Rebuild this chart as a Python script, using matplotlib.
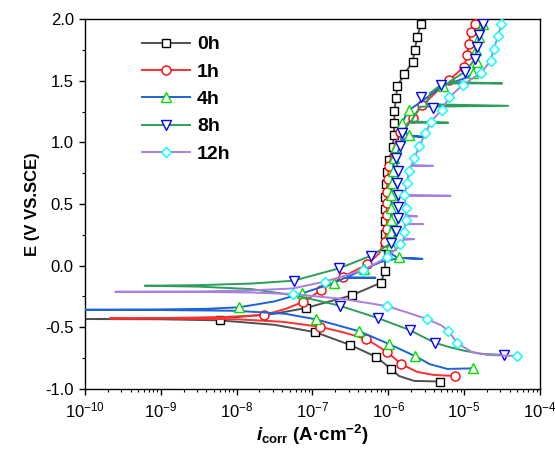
import matplotlib
matplotlib.use('Agg')
import matplotlib.pyplot as plt
import numpy as np
from matplotlib.lines import Line2D
from matplotlib.ticker import LogLocator, MultipleLocator, NullFormatter

plt.rcParams['font.family'] = ['Liberation Sans', 'DejaVu Sans']
plt.rcParams['axes.unicode_minus'] = False
plt.rcParams['mathtext.fontset'] = 'custom'
plt.rcParams['mathtext.rm'] = 'Liberation Sans'
plt.rcParams['mathtext.it'] = 'Liberation Sans:italic'
plt.rcParams['mathtext.bf'] = 'Liberation Sans:bold'
plt.rcParams['mathtext.bfit'] = 'Liberation Sans:italic:bold'

# log10 of current density (A/cm2) and potential (V vs SCE)
h0_logi = [-5.32, -5.66, -5.86, -5.96, -6.16, -6.50, -6.96, -7.5, -8.22, -9.0, -10.0,
           -9.0, -8.0, -7.5, -7.09, -6.48, -6.10, -6.04, -6.05, -6.05, -6.02, -5.94,
           -5.92, -5.92, -5.90, -5.88, -5.79, -5.68, -5.65, -5.62, -5.57, -5.55]
h0_E = [-0.94, -0.935, -0.895, -0.84, -0.74, -0.644, -0.54, -0.48, -0.444, -0.435, -0.433,
        -0.430, -0.418, -0.39, -0.344, -0.24, -0.139, -0.04, 0.16, 0.45, 0.80, 0.96,
        1.157, 1.256, 1.357, 1.457, 1.554, 1.654, 1.754, 1.857, 1.957, 2.0]
h0_mk_logi = [-5.32, -5.96, -6.16, -6.50, -6.96, -8.22, -7.09, -6.48, -6.10, -6.04, -6.05,
              -6.05, -6.05, -6.05, -6.04, -6.03, -6.02, -5.99, -5.94, -5.92, -5.92,
              -5.92, -5.90, -5.88, -5.79, -5.68, -5.65, -5.62, -5.57]
h0_mk_E = [-0.94, -0.84, -0.74, -0.644, -0.54, -0.444, -0.344, -0.24, -0.139, -0.04, 0.161,
           0.256, 0.36, 0.46, 0.56, 0.66, 0.76, 0.86, 0.96, 1.057, 1.157,
           1.256, 1.357, 1.457, 1.554, 1.654, 1.754, 1.857, 1.957]

h1_logi = [-5.12, -5.40, -5.62, -5.83, -6.02, -6.29, -6.60, -6.90, -7.4, -8.0, -9.0, -9.67,
           -9.0, -8.2, -7.64, -7.35, -7.12, -6.89, -6.60, -6.28, -6.12, -6.05, -6.02, -6.02,
           -6.02, -6.02, -6.01, -5.99, -5.95, -5.90, -5.84, -5.68, -5.55, -5.35, -5.20,
           -5.00, -4.96, -4.94, -4.91, -4.86, -4.84]
h1_E = [-0.895, -0.887, -0.862, -0.798, -0.698, -0.595, -0.54, -0.496, -0.455, -0.435, -0.428, -0.428,
        -0.425, -0.418, -0.40, -0.35, -0.293, -0.20, -0.09, 0.01, 0.10, 0.194, 0.30, 0.41,
        0.505, 0.60, 0.70, 0.81, 0.92, 1.0, 1.086, 1.20, 1.30, 1.42, 1.505,
        1.613, 1.71, 1.80, 1.897, 1.965, 2.0]
h1_mk_logi = [-5.12, -5.83, -6.02, -6.29, -6.90, -7.64, -7.12, -6.89, -6.60, -6.28, -6.05,
              -6.02, -6.02, -6.02, -6.02, -6.01, -5.99, -5.84, -5.68, -5.55, -5.20,
              -5.00, -4.96, -4.94, -4.91, -4.86]
h1_mk_E = [-0.895, -0.798, -0.698, -0.595, -0.496, -0.40, -0.293, -0.20, -0.09, 0.01, 0.194,
           0.30, 0.41, 0.505, 0.60, 0.70, 0.81, 1.086, 1.20, 1.30, 1.505,
           1.613, 1.71, 1.80, 1.897, 1.965]

h4_logi = [-4.88, -5.22, -5.45, -5.65, -5.99, -6.38, -6.95, -7.36, -8.02, -9.0, -10.0,
           -9.0, -8.4, -7.97, -7.5, -7.14, -6.71, -6.58, -6.17, -6.55, -6.32, -6.10, -5.85,
           -5.55, -5.88, -5.97, -5.97, -5.96, -5.95, -5.93, -5.90, -5.86, -5.73, -5.55,
           -5.75, -5.82, -5.73, -5.5, -5.28, -4.95, -4.89, -4.83, -4.85, -4.80, -4.75, -4.73]
h4_E = [-0.833, -0.838, -0.80, -0.733, -0.636, -0.533, -0.436, -0.39, -0.366, -0.36, -0.358,
        -0.355, -0.35, -0.338, -0.29, -0.225, -0.139, -0.10, -0.098, -0.095, -0.03, 0.03, 0.062,
        0.055, 0.065, 0.10, 0.30, 0.50, 0.70, 0.85, 0.96, 1.0, 1.05, 1.045,
        1.06, 1.16, 1.26, 1.36, 1.46, 1.53, 1.565, 1.654, 1.75, 1.85, 1.957, 2.0]
h4_mk_logi = [-4.88, -5.65, -5.99, -6.38, -6.95, -7.97, -7.14, -6.71, -6.32, -5.86,
              -5.97, -5.97, -5.97, -5.96, -5.96, -5.95, -5.94, -5.93, -5.90, -5.73,
              -5.82, -5.73, -5.28, -4.89, -4.83, -4.85, -4.80, -4.75]
h4_mk_E = [-0.833, -0.733, -0.636, -0.533, -0.436, -0.338, -0.225, -0.139, -0.03, 0.072,
           0.17, 0.27, 0.37, 0.47, 0.57, 0.67, 0.77, 0.87, 0.964, 1.06,
           1.16, 1.26, 1.46, 1.565, 1.654, 1.75, 1.855, 1.957]

h8_logi = [-4.47, -4.78, -5.0, -5.20, -5.39, -5.72, -6.13, -6.64, -7.2, -7.8, -8.5, -9.21,
           -8.5, -7.8, -7.25, -6.65, -6.23, -5.97, -5.90, -5.87, -5.87, -5.88, -5.87, -5.90,
           -5.85, -5.82, -5.72, -5.21, -5.70, -5.58, -4.42, -5.50, -5.45, -5.31, -5.25,
           -4.50, -5.2, -4.99, -4.86, -4.83, -4.80, -4.75, -4.73]
h8_E = [-0.725, -0.715, -0.69, -0.66, -0.625, -0.522, -0.427, -0.325, -0.245, -0.19, -0.17, -0.163,
        -0.158, -0.145, -0.122, -0.022, 0.08, 0.18, 0.262, 0.38, 0.57, 0.67, 0.77, 0.87,
        0.97, 1.078, 1.16, 1.16, 1.17, 1.29, 1.297, 1.31, 1.40, 1.465, 1.479,
        1.479, 1.49, 1.573, 1.673, 1.775, 1.87, 1.965, 2.0]
h8_mk_logi = [-4.47, -5.39, -5.72, -6.13, -6.64, -7.25, -6.65, -6.23, -5.97, -5.90, -5.87,
              -5.87, -5.87, -5.88, -5.87, -5.90, -5.85, -5.82, -5.41, -5.57, -5.31,
              -4.99, -4.86, -4.83, -4.80, -4.75]
h8_mk_E = [-0.725, -0.625, -0.522, -0.427, -0.325, -0.122, -0.022, 0.08, 0.18, 0.283, 0.384,
           0.478, 0.57, 0.67, 0.77, 0.87, 0.97, 1.078, 1.276, 1.37, 1.465,
           1.573, 1.673, 1.775, 1.87, 1.965]

h12_logi = [-4.30, -4.69, -4.9, -5.09, -5.21, -5.30, -5.49, -5.75, -6.02, -6.6, -7.26, -7.8, -8.5, -9.60,
            -8.5, -7.8, -7.26, -6.84, -6.33, -6.02, -5.84, -5.80, -5.66, -5.80, -5.79, -5.78,
            -5.54, -5.77, -5.77, -5.62, -5.77, -5.78, -5.18, -5.79, -5.75, -5.73, -5.70, -5.41,
            -5.69, -5.66, -5.59, -5.51, -5.44, -5.29, -5.20, -5.02, -4.78, -4.65, -4.61,
            -4.55, -4.51, -4.49]
h12_E = [-0.733, -0.725, -0.70, -0.63, -0.528, -0.485, -0.433, -0.38, -0.328, -0.27, -0.23, -0.218, -0.213, -0.212,
         -0.21, -0.20, -0.185, -0.13, -0.036, 0.067, 0.167, 0.21, 0.215, 0.22, 0.27, 0.337,
         0.337, 0.34, 0.40, 0.40, 0.41, 0.567, 0.567, 0.573, 0.667, 0.77, 0.81, 0.81,
         0.815, 0.87, 0.97, 1.073, 1.167, 1.267, 1.365, 1.465, 1.565, 1.662, 1.762,
         1.865, 1.965, 2.0]
h12_mk_logi = [-4.30, -5.09, -5.21, -5.49, -6.02, -7.26, -6.84, -6.33, -6.02, -5.85, -5.79,
               -5.77, -5.77, -5.79, -5.75, -5.73, -5.66, -5.59, -5.51, -5.44, -5.29,
               -5.20, -5.02, -4.78, -4.65, -4.61, -4.55, -4.51]
h12_mk_E = [-0.733, -0.63, -0.528, -0.433, -0.328, -0.228, -0.13, -0.036, 0.067, 0.175, 0.27,
            0.37, 0.465, 0.573, 0.667, 0.77, 0.87, 0.97, 1.073, 1.167, 1.267,
            1.365, 1.465, 1.565, 1.662, 1.762, 1.865, 1.965]

labels = ['0h', '1h', '4h', '8h', '12h']
line_colors = ['#505050', '#ff3030', '#1c63d8', '#2d9e5a', '#a97fe0']
marker_colors = ['#000000', '#ff0000', '#00e000', '#0000ff', '#00ffff']
markers = ['s', 'o', '^', 'v', 'D']
marker_sizes = [5.5, 6.5, 6.5, 6.5, 5.5]

series = [
    (h0_logi, h0_E, h0_mk_logi, h0_mk_E),
    (h1_logi, h1_E, h1_mk_logi, h1_mk_E),
    (h4_logi, h4_E, h4_mk_logi, h4_mk_E),
    (h8_logi, h8_E, h8_mk_logi, h8_mk_E),
    (h12_logi, h12_E, h12_mk_logi, h12_mk_E),
]

fig = plt.figure(figsize=(5.55, 4.57), dpi=100)
ax = fig.add_axes([0.153, 0.149, 0.820, 0.809])

handles = []
for k, (lx, le, mx, me) in enumerate(series):
    ax.plot(10.0 ** np.array(lx), le, color=line_colors[k], lw=1.4, zorder=2 + k)
    ax.plot(10.0 ** np.array(mx), me, ls='none', marker=markers[k], ms=marker_sizes[k],
            mfc='white', mec=marker_colors[k], mew=1.0, zorder=2 + k)
    handles.append(Line2D([], [], color=line_colors[k], lw=1.4, marker=markers[k],
                          ms=marker_sizes[k], mfc='white', mec=marker_colors[k], mew=1.0))

ax.set_xscale('log')
ax.set_xlim(1e-10, 1e-4)
ax.set_ylim(-1.0, 2.0)
ax.xaxis.set_major_locator(LogLocator(base=10, numticks=10))
ax.xaxis.set_minor_locator(LogLocator(base=10, subs=np.arange(2, 10), numticks=10))
ax.xaxis.set_minor_formatter(NullFormatter())
ax.yaxis.set_major_locator(MultipleLocator(0.5))
ax.yaxis.set_minor_locator(MultipleLocator(0.25))
ax.yaxis.set_major_formatter(plt.FuncFormatter(lambda v, p: '%.1f' % v))

ax.tick_params(which='major', direction='out', length=4.5, width=1.0, labelsize=12)
ax.tick_params(which='minor', direction='out', length=2.5, width=0.8)
for s in ax.spines.values():
    s.set_linewidth(1.0)

ax.set_ylabel('E (V VS.SCE)', fontsize=12, fontweight='bold', labelpad=4)
ax.set_xlabel(r'$\mathbfit{i}_{\mathbf{corr}}$ (A·cm$^{\mathbf{-2}}$)', fontsize=13.5,
              fontweight='bold', labelpad=2)

ax.legend(handles, labels, loc='upper left', bbox_to_anchor=(0.125, 0.955), frameon=False,
          borderpad=0, borderaxespad=0, handlelength=2.5, handletextpad=0.35,
          labelspacing=0.5, numpoints=1, prop={'weight': 'bold', 'size': 14})

fig.savefig('out.png', dpi=100)
